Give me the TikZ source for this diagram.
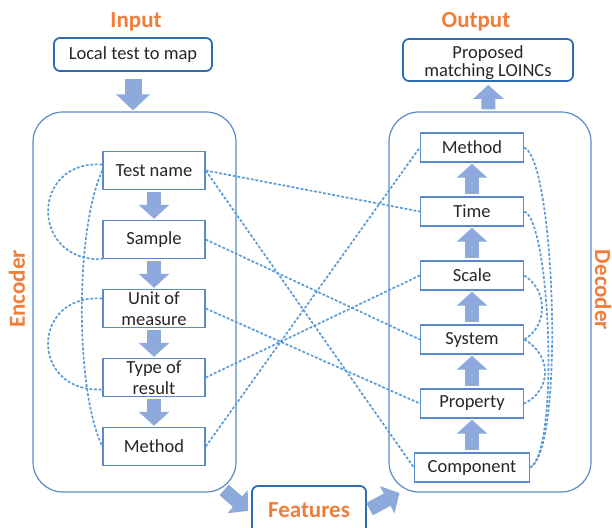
\documentclass[tikz,border=0pt]{standalone}
\usepackage{fontspec}
\setmainfont{Carlito}
\usetikzlibrary{arrows.meta,positioning}
\definecolor{boxblue}{HTML}{5B8BC6}
\definecolor{darkblue}{HTML}{2E6DB4}
\definecolor{linkblue}{HTML}{5B9BD5}
\definecolor{arrowblue}{HTML}{8EA9DB}
\definecolor{labelorange}{HTML}{F07D3A}
\definecolor{txt}{HTML}{262626}

\begin{document}
\begin{tikzpicture}[x=1pt,y=1pt,
            field/.style={draw=boxblue,line width=1.4pt,rectangle,minimum width=102pt,minimum height=38pt,inner sep=0pt,align=center,text=txt,font=\fontsize{18.5}{21}\selectfont,node distance=69pt},
            part/.style={field,minimum width=103pt,minimum height=29pt,node distance=64pt},
            frame/.style={draw=boxblue,line width=1.2pt,rounded corners=30pt,minimum width=203pt,minimum height=380pt},
            io/.style={draw=darkblue,line width=1.8pt,rounded corners=6pt,inner sep=0pt,align=center,text=txt,font=\fontsize{18.5}{22}\selectfont},
            lab/.style={text=labelorange,font=\fontsize{23}{25}\selectfont\bfseries},
            link/.style={draw=linkblue,line width=1.7pt,dash pattern=on 2.8pt off 1.8pt},
            flow/.style={draw=arrowblue,line width=14pt,-{Triangle[length=14pt,width=30pt]},shorten <=2pt,shorten >=1pt}
          ]
          \useasboundingbox (0,0) rectangle (612,527);

          %input and output
          \node[lab] (inlab) at (136,505) {Input};
          \node[io,minimum width=158pt,minimum height=33pt] (input) at (133,472.5) {Local test to map};
          \node[lab] (outlab) at (476,505) {Output};
          \node[io,minimum width=170pt,minimum height=42pt,text depth=0pt] (output) at (488,467) {\raisebox{-2pt}{\shortstack{Proposed\\matching LOINCs}}};

          %frames
          \node[frame] (enc) at (134.5,225) {};
          \node[frame,minimum width=202pt] (dec) at (490,225) {};
          \node[lab,rotate=90] (enclab) at (17,238) {Encoder};
          \node[lab,rotate=-90] (declab) at (603,237) {Decoder};

          %encoder
          \node[field] (tname) at (154,356.5) {Test name};
          \node[below of = tname,field] (sample) {Sample};
          \node[below of = sample,field] (unit) {Unit of\\measure};
          \node[below of = unit,field] (type) {Type of\\result};
          \node[below of = type,field] (emeth) {Method};

          %decoder
          \node[part,minimum width=115pt] (comp) at (472,59.5) {Component};
          \node[above of = comp,part] (prop) {Property};
          \node[above of = prop,part] (sys) {System};
          \node[above of = sys,part] (scale) {Scale};
          \node[above of = scale,part] (time) {Time};
          \node[above of = time,part] (dmeth) {Method};

          %features
          \node[io,minimum width=114pt,minimum height=49pt,text=labelorange,font=\fontsize{23}{25}\selectfont\bfseries] (feat) at (309,16.5) {Features};

          %block arrows
          \draw[flow,line width=17pt,-{Triangle[length=16pt,width=33pt]},shorten <=7pt] (input.south) -- (input.south |- enc.north);
          \foreach \a/\b in {tname/sample,sample/unit,unit/type,type/emeth}
            \draw[flow] (\a) -- (\b);
          \foreach \a/\b in {comp/prop,prop/sys,sys/scale,scale/time,time/dmeth}
            \draw[flow] (\a) -- (\b);
          \draw[flow,shorten >=3pt] (dec) -- (output);
          \draw[flow,shorten >=4pt] ([xshift=-14pt,yshift=4pt]enc.south east) -- ([yshift=-3pt]feat.west);
          \draw[flow,shorten <=3pt] (feat.east) -- ([xshift=12pt]dec.south west);

          %dotted links
          \foreach \a/\b in {tname/time,tname/comp,sample/sys,unit/prop,type/scale,emeth/dmeth}
            \draw[link] (\a.east) -- (\b.west);
          \draw[link] ([yshift=6pt]tname.west) .. controls (30,367) and (30,265) .. (sample.south west);
          \draw[link] ([yshift=10pt]unit.west) .. controls (30,233) and (30,134) .. ([yshift=-12pt]type.west);
          \draw[link] (tname.west) .. controls (75,297) and (75,137) .. (emeth.west);
          \draw[link] (dmeth.east) .. controls (555,367) and (565,77) .. (comp.east);
          \draw[link] (time.east) .. controls (550,307) and (560,77) .. (comp.east);
          \draw[link] (scale.east) .. controls (548,237) and (548,201) .. (sys.east);
          \draw[link] (sys.east) .. controls (552,172) and (552,137) .. (prop.east);

      \end{tikzpicture}
\end{document}
